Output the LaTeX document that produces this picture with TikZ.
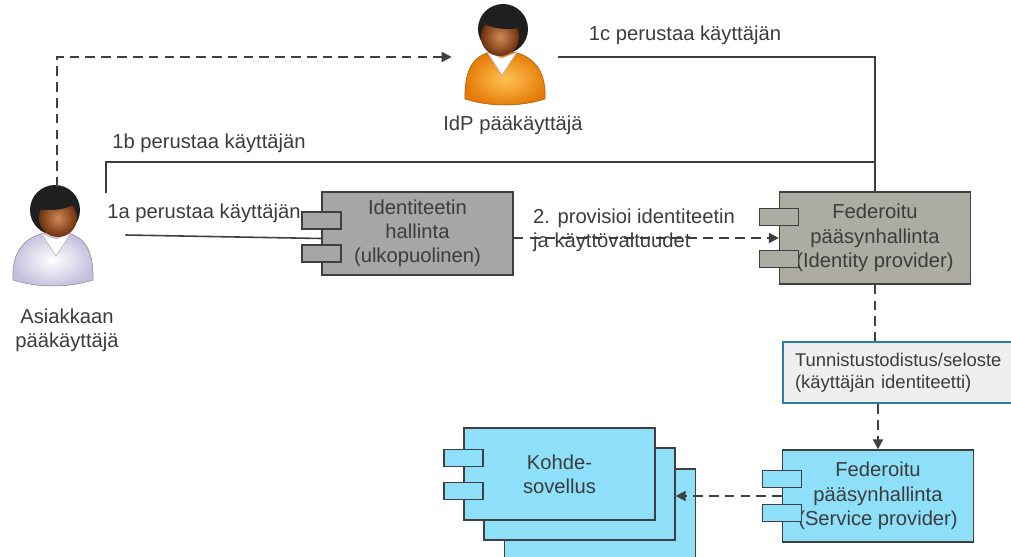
\documentclass[tikz,border=0pt]{standalone}
\usepackage{fontspec}
\setmainfont{Liberation Sans}
\usetikzlibrary{arrows.meta}

\definecolor{viiva}{HTML}{3F3F3F}
\definecolor{tekstiharmaa}{HTML}{3C3C3C}
\definecolor{harmaa}{HTML}{A6A6A6}
\definecolor{idpharmaa}{HTML}{ACACA3}
\definecolor{syaani}{HTML}{8EE0FA}
\definecolor{sininen}{HTML}{2C7EA8}
\definecolor{vaalea}{HTML}{EFEFEF}
\definecolor{kasvovalo}{HTML}{D08A55}
\definecolor{kasvovarjo}{HTML}{6E300E}
\definecolor{asiakasvalo}{HTML}{FFFFFF}
\definecolor{asiakasvari}{HTML}{C4BEDC}
\definecolor{idpvalo}{HTML}{FFC255}
\definecolor{idpvari}{HTML}{E57A05}

\tikzset{
  komponentti/.style={draw=viiva, line width=0.8pt, align=center, minimum width=3.82cm},
  portti/.style={draw=viiva, line width=0.8pt, minimum width=0.78cm, minimum height=0.34cm, inner sep=0pt},
  ohut/.style={draw=viiva, line width=0.6pt},
  katko/.style={draw=viiva, line width=1.1pt, dash pattern=on 5.5pt off 3.5pt},
  viesti/.style={katko, -{Triangle[length=0.2cm,width=0.2cm]}},
  huomio/.style={draw=sininen, line width=1.3pt, fill=vaalea, align=left, text width=4.32cm,
    inner xsep=0.24cm, minimum height=1.22cm, font=\fontsize{10.5}{12.6}\selectfont},
  hius/.style={fill=black!88},
  pics/kayttaja/.style 2 args={code={
    % hiukset takana
    \fill[hius] (-3,-8) circle[radius=25];
    % vartalo
    \shade[inner color=#1, outer color=#2, draw=#2!70!black, line width=0.3pt]
      (-45,62) .. controls (-47,26) and (-25,14) .. (-2,14)
      .. controls (22,14) and (36,26) .. (35,62)
      .. controls (10,70) and (-20,70) .. (-45,62) -- cycle;
    % kaulus
    \fill[white, draw=black!30, line width=0.3pt] (-17,15) -- (-2,38) -- (13,15) -- (-2,21) -- cycle;
    % kasvot
    \shade[inner color=kasvovalo, outer color=kasvovarjo] (0,0) circle[radius=19];
    % otsatukka
    \begin{scope}
      \clip (0,0) circle[radius=19];
      \fill[hius] (-8,-20) ellipse[x radius=28, y radius=12];
    \end{scope}
  }}
}

\begin{document}
\begin{tikzpicture}[x=0.02cm, y=-0.02cm, font=\fontsize{11.5}{13.8}\selectfont, text=tekstiharmaa]
\useasboundingbox (0,0) rectangle (1011,557);
\clip (0,0) rectangle (1011,557);
\fill[white] (0,0) rectangle (1011,557);

% Henkilot
\node[minimum width=2.72cm, minimum height=1.92cm] (asiakas) at (57,235) {};
\pic at (58,218) {kayttaja={asiakasvalo}{asiakasvari}};
\node[align=center] (asiakasteksti) at (67,330) {Asiakkaan\\pääkäyttäjä};
\node[minimum width=2.12cm, minimum height=1.9cm] (idpadmin) at (505,57) {};
\pic[xscale=-1] at (500,37) {kayttaja={idpvalo}{idpvari}};
\node (idpteksti) at (513,125) {IdP pääkäyttäjä};

% Komponentit
\node[komponentti, fill=harmaa, minimum height=1.66cm] (idhall) at (417.5,233.5) {Identiteetin\\hallinta\\(ulkopuolinen)};
\node[portti, fill=harmaa] (idhallp1) at ([yshift=0.26cm]idhall.west) {};
\node[portti, fill=harmaa] (idhallp2) at ([yshift=-0.4cm]idhall.west) {};

\node[komponentti, fill=idpharmaa, minimum height=1.84cm] (fedidp) at (875,238) {Federoitu\\pääsynhallinta\\(Identity provider)};
\node[portti, fill=idpharmaa] (fedidpp1) at ([yshift=0.42cm]fedidp.west) {};
\node[portti, fill=idpharmaa] (fedidpp2) at ([yshift=-0.42cm]fedidp.west) {};

\node[huomio] (todistus) at (903,372.5) {Tunnistustodistus/seloste\\(käyttäjän identiteetti)};

\node[komponentti, fill=syaani, minimum height=1.84cm] (fedsp) at (878,496) {Federoitu\\pääsynhallinta\\(Service provider)};
\node[portti, fill=syaani] (fedspp1) at ([yshift=0.34cm]fedsp.west) {};
\node[portti, fill=syaani] (fedspp2) at ([yshift=-0.34cm]fedsp.west) {};

% Kohdesovellukset pinossa
\node[komponentti, fill=syaani, minimum height=1.84cm] (kohde3) at (600,515) {};
\node[komponentti, fill=syaani, minimum height=1.84cm] (kohde2) at (579.5,494) {};
\node[komponentti, fill=syaani, minimum height=1.84cm] (kohde) at (559.5,474) {Kohde-\\sovellus};
\node[portti, fill=syaani] (kohdep1) at ([yshift=0.32cm]kohde.west) {};
\node[portti, fill=syaani] (kohdep2) at ([yshift=-0.34cm]kohde.west) {};

% Yhteydet
\coordinate (liitos) at (fedidp.north |- 0,162);
\draw[viesti] (asiakas.north) |- (idpadmin.west);
\draw[ohut] (idpadmin.east) -| (fedidp.north);
\draw[ohut] ([xshift=0.98cm,yshift=-0.12cm]asiakas.north) |- (liitos);
\draw[ohut, line width=0.9pt] (asiakas.east) -- ([yshift=-0.1cm]idhall.west);
\draw[viesti] (idhall.east |- fedidp.west) -- (fedidp.west);
\draw[katko] (fedidp.south) -- (todistus.north -| fedidp.south);
\draw[viesti] (todistus.south -| fedsp.north) -- (fedsp.north);
\draw[viesti] (fedsp.west) -- (fedsp.west -| kohde2.east);

% Tekstit
\node (l1a) at (204,213) {1a perustaa käyttäjän};
\node (l1b) at (209,143) {1b perustaa käyttäjän};
\node (l1c) at (685,35) {1c perustaa käyttäjän};
\node[anchor=west, align=left] (l2) at (527,230) {2. provisioi identiteetin\\ja käyttövaltuudet};
\end{tikzpicture}
\end{document}
